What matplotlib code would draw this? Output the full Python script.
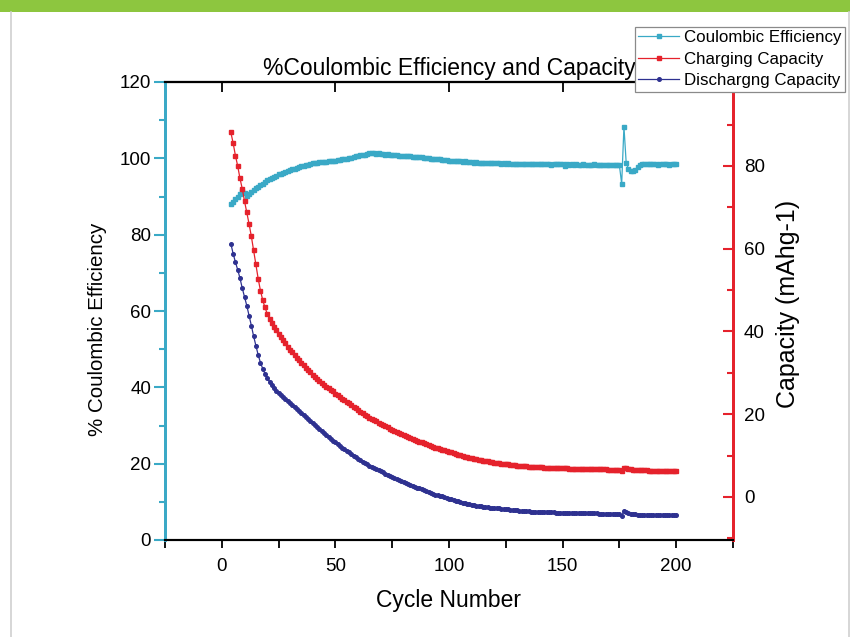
import numpy as np
import matplotlib
matplotlib.use("Agg")
import matplotlib.pyplot as plt
from matplotlib.patches import Rectangle
from matplotlib.lines import Line2D
from matplotlib.ticker import MultipleLocator, FixedLocator

plt.rcParams['font.family'] = ['Liberation Sans', 'DejaVu Sans']

cycles = np.arange(4, 201)

coulombic_eff = [
    88.0, 88.6, 89.3, 90.0, 90.7, 91.4, 91.0, 90.2, 90.7, 91.3,
    91.8, 92.2, 92.6, 93.0, 93.4, 93.9, 94.3, 94.6, 94.8, 95.1,
    95.5, 95.8, 96.0, 96.2, 96.4, 96.7, 96.9, 97.1, 97.3, 97.5,
    97.7, 97.9, 98.1, 98.2, 98.3, 98.5, 98.7, 98.9, 98.9, 99.0,
    99.0, 99.1, 99.1, 99.3, 99.3, 99.4, 99.4, 99.5, 99.6, 99.7,
    99.8, 99.9, 100.1, 100.2, 100.4, 100.5, 100.6, 100.8, 100.9, 101.0,
    101.2, 101.4, 101.3, 101.4, 101.2, 101.3, 101.2, 101.1, 101.0, 101.1,
    100.9, 100.9, 100.8, 100.9, 100.7, 100.7, 100.6, 100.6, 100.5, 100.6,
    100.4, 100.4, 100.3, 100.4, 100.3, 100.2, 100.1, 100.0, 99.9, 99.9,
    99.8, 99.7, 99.7, 99.6, 99.5, 99.5, 99.4, 99.4, 99.3, 99.3,
    99.2, 99.2, 99.1, 99.2, 99.0, 99.1, 99.0, 98.9, 99.0, 98.9,
    98.9, 98.8, 98.9, 98.8, 98.8, 98.7, 98.8, 98.7, 98.7, 98.6,
    98.7, 98.6, 98.7, 98.5, 98.6, 98.5, 98.6, 98.5, 98.5, 98.6,
    98.4, 98.5, 98.5, 98.4, 98.6, 98.5, 98.4, 98.5, 98.5, 98.4,
    98.5, 98.3, 98.5, 98.4, 98.5, 98.4, 98.5, 98.0, 98.4, 98.3,
    98.4, 98.3, 98.4, 98.3, 98.2, 98.4, 98.3, 98.2, 98.3, 98.2,
    98.4, 98.3, 98.2, 98.3, 98.2, 98.3, 98.2, 98.3, 98.2, 98.3,
    98.2, 98.2, 93.3, 108.3, 98.7, 97.3, 96.8, 96.7, 96.9, 97.6,
    98.2, 98.5, 98.4, 98.6, 98.5, 98.4, 98.6, 98.5, 98.3, 98.5,
    98.6, 98.4, 98.5, 98.3, 98.6, 98.4, 98.5,
]

charging_cap = [
    88.1, 85.5, 82.5, 80.0, 77.0, 74.5, 71.5, 68.8, 66.0, 63.0,
    59.6, 56.2, 52.8, 49.9, 47.6, 45.8, 44.3, 43.1, 42.1, 41.2,
    40.3, 39.5, 38.7, 37.9, 37.1, 36.3, 35.6, 35.0, 34.3, 33.7,
    33.0, 32.4, 31.8, 31.2, 30.7, 30.1, 29.6, 29.1, 28.6, 28.1,
    27.6, 27.1, 26.7, 26.3, 25.9, 25.5, 25.0, 24.6, 24.2, 23.8,
    23.4, 23.0, 22.6, 22.2, 21.8, 21.4, 21.0, 20.6, 20.2, 19.8,
    19.5, 19.2, 18.9, 18.6, 18.3, 18.0, 17.7, 17.4, 17.1, 16.8,
    16.5, 16.2, 15.9, 15.6, 15.4, 15.2, 14.95, 14.7, 14.5, 14.3,
    14.05, 13.85, 13.6, 13.4, 13.2, 12.95, 12.75, 12.55, 12.35, 12.15,
    11.95, 11.8, 11.6, 11.45, 11.3, 11.1, 10.95, 10.8, 10.6, 10.45,
    10.2, 10.05, 9.9, 9.75, 9.6, 9.5, 9.35, 9.25, 9.1, 9.0,
    8.9, 8.8, 8.7, 8.6, 8.5, 8.4, 8.3, 8.2, 8.1, 8.05,
    8.0, 7.9, 7.85, 7.8, 7.75, 7.7, 7.6, 7.55, 7.5, 7.45,
    7.4, 7.35, 7.3, 7.3, 7.25, 7.2, 7.2, 7.15, 7.1, 7.1,
    7.05, 7.0, 7.0, 7.0, 6.95, 6.95, 6.9, 6.9, 6.9, 6.85,
    6.85, 6.85, 6.8, 6.8, 6.8, 6.8, 6.75, 6.75, 6.75, 6.7,
    6.7, 6.7, 6.7, 6.65, 6.65, 6.65, 6.6, 6.6, 6.6, 6.6,
    6.55, 6.55, 6.2, 7.1, 6.95, 6.8, 6.65, 6.55, 6.5, 6.45,
    6.45, 6.4, 6.4, 6.4, 6.35, 6.35, 6.35, 6.3, 6.3, 6.3,
    6.3, 6.25, 6.25, 6.25, 6.2, 6.2, 6.2,
]

discharging_cap = [
    77.6, 75.0, 72.8, 70.8, 68.6, 66.0, 63.7, 61.4, 58.8, 56.2,
    53.4, 50.9, 48.5, 46.5, 44.9, 43.6, 42.5, 41.5, 40.6, 39.8,
    39.1, 38.5, 37.9, 37.4, 36.9, 36.4, 35.9, 35.4, 34.8, 34.3,
    33.8, 33.3, 32.8, 32.3, 31.8, 31.3, 30.7, 30.2, 29.7, 29.1,
    28.6, 28.0, 27.5, 27.0, 26.5, 26.0, 25.6, 25.1, 24.6, 24.2,
    23.8, 23.4, 23.0, 22.6, 22.1, 21.7, 21.3, 20.9, 20.5, 20.1,
    19.8, 19.5, 19.2, 18.9, 18.6, 18.3, 18.0, 17.7, 17.4, 17.1,
    16.8, 16.5, 16.2, 15.9, 15.6, 15.35, 15.1, 14.9, 14.65, 14.4,
    14.2, 13.95, 13.7, 13.5, 13.25, 13.0, 12.8, 12.55, 12.35, 12.1,
    11.9, 11.75, 11.55, 11.4, 11.2, 11.0, 10.85, 10.65, 10.5, 10.3,
    10.15, 9.95, 9.8, 9.65, 9.5, 9.35, 9.25, 9.1, 9.0, 8.9,
    8.8, 8.7, 8.65, 8.55, 8.5, 8.45, 8.4, 8.35, 8.3, 8.2,
    8.15, 8.1, 8.0, 7.95, 7.9, 7.85, 7.8, 7.7, 7.65, 7.6,
    7.55, 7.5, 7.45, 7.4, 7.4, 7.35, 7.35, 7.3, 7.3, 7.3,
    7.25, 7.25, 7.25, 7.2, 7.2, 7.2, 7.2, 7.15, 7.15, 7.1,
    7.1, 7.1, 7.05, 7.05, 7.05, 7.0, 7.0, 7.0, 7.0, 6.95,
    6.95, 6.95, 6.9, 6.9, 6.9, 6.85, 6.85, 6.85, 6.8, 6.8,
    6.75, 6.75, 6.3, 7.6, 7.3, 7.0, 6.8, 6.7, 6.7, 6.65,
    6.65, 6.6, 6.6, 6.6, 6.6, 6.55, 6.55, 6.55, 6.55, 6.5,
    6.5, 6.5, 6.5, 6.5, 6.5, 6.5, 6.5,
]

x_major = [0, 50, 100, 150, 200]
left_ticks = [0, 20, 40, 60, 80, 100, 120]
right_ticks = [0, 20, 40, 60, 80]

TEAL = '#3aa9c6'
RED = '#e5222c'
NAVY = '#2e3190'

W, H = 866, 637
fig = plt.figure(figsize=(W / 100, H / 100), dpi=100)
fig.patch.set_facecolor('white')

# page decoration: green band + panel border
fig.patches.append(Rectangle((0, 1 - 12 / H), 850 / W, 12 / H, transform=fig.transFigure,
                             facecolor='#8dc63f', edgecolor='none', zorder=0))
fig.lines.append(Line2D([11 / W, 11 / W], [0, 1 - 12 / H], transform=fig.transFigure,
                        color='#d0d0d0', lw=1.2))
fig.lines.append(Line2D([849 / W, 849 / W], [0, 1 - 12 / H], transform=fig.transFigure,
                        color='#d0d0d0', lw=1.2))

ax = fig.add_axes([165 / W, 97 / H, 568 / W, 458 / H])
ax2 = ax.twinx()

l1, = ax.plot(cycles, coulombic_eff, color=TEAL, lw=0.9, marker='s', ms=2.6,
              mec=TEAL, mfc=TEAL, label='Coulombic Efficiency', zorder=3)
l3, = ax.plot(cycles, discharging_cap, color=NAVY, lw=0.9, marker='o', ms=2.6,
              mec=NAVY, mfc=NAVY, label='Dischargng Capacity', zorder=3)
l2, = ax2.plot(cycles, charging_cap, color=RED, lw=0.9, marker='s', ms=2.6,
               mec=RED, mfc=RED, label='Charging Capacity', zorder=3)

ax.set_xlim(-25, 225)
ax.set_ylim(0, 120)
ax2.set_ylim(-10.4, 100.3)

# x axis
ax.xaxis.set_major_locator(FixedLocator(x_major))
ax.xaxis.set_minor_locator(FixedLocator([-25, 25, 75, 125, 175, 225]))
ax.tick_params(axis='x', which='both', direction='out', length=6, width=1.3,
               color='black', labelsize=13.5, pad=7, top=False)
sec = ax.secondary_xaxis('top')
sec.xaxis.set_major_locator(FixedLocator(x_major))
sec.tick_params(axis='x', direction='in', length=7, width=1.3, labeltop=False)
sec.spines['top'].set_linewidth(1.5)

# left axis
ax.yaxis.set_major_locator(FixedLocator(left_ticks))
ax.yaxis.set_minor_locator(MultipleLocator(10))
ax.tick_params(axis='y', which='major', direction='out', length=8, width=1.5,
               color=TEAL, labelsize=13.5, pad=2)
ax.tick_params(axis='y', which='minor', direction='out', length=4, width=1.5, color=TEAL)

# right axis
ax2.yaxis.set_major_locator(FixedLocator(right_ticks))
ax2.yaxis.set_minor_locator(FixedLocator([-10, 10, 30, 50, 70, 90]))
ax2.tick_params(axis='y', which='major', direction='in', length=7, width=1.5,
                color=RED, labelsize=13.5, pad=8)
ax2.tick_params(axis='y', which='minor', direction='in', length=4, width=1.5, color=RED)

for a in (ax, ax2):
    a.spines['left'].set_color(TEAL)
    a.spines['left'].set_linewidth(2)
    a.spines['right'].set_color(RED)
    a.spines['right'].set_linewidth(2)
    a.spines['bottom'].set_color('black')
    a.spines['bottom'].set_linewidth(1.5)
    a.spines['top'].set_linewidth(1.5)

ax.set_xlabel('Cycle Number', fontsize=16.5, labelpad=10)
ax.set_ylabel('% Coulombic Efficiency', fontsize=14.8, labelpad=9)
ax.yaxis.label.set_y(0.5 - 18 / 458)
ax2.set_ylabel('Capacity (mAhg-1)', fontsize=18, labelpad=8)
ax2.yaxis.label.set_y(0.5 + 7 / 458)
ax.set_title('%Coulombic Efficiency and Capacity', fontsize=16.5, pad=5)

leg = fig.legend(handles=[l1, l2, l3], loc='upper right',
                 bbox_to_anchor=(845 / W, 1 - 27 / H), fontsize=12.2,
                 frameon=True, fancybox=False, edgecolor='#8a8a8a',
                 framealpha=1.0, facecolor='white',
                 numpoints=1, handlelength=2.4, handletextpad=0.3,
                 labelspacing=0.38, borderpad=0.2, borderaxespad=0)
leg.get_frame().set_linewidth(0.9)
leg.set_zorder(20)

fig.savefig('out.png', dpi=100)
